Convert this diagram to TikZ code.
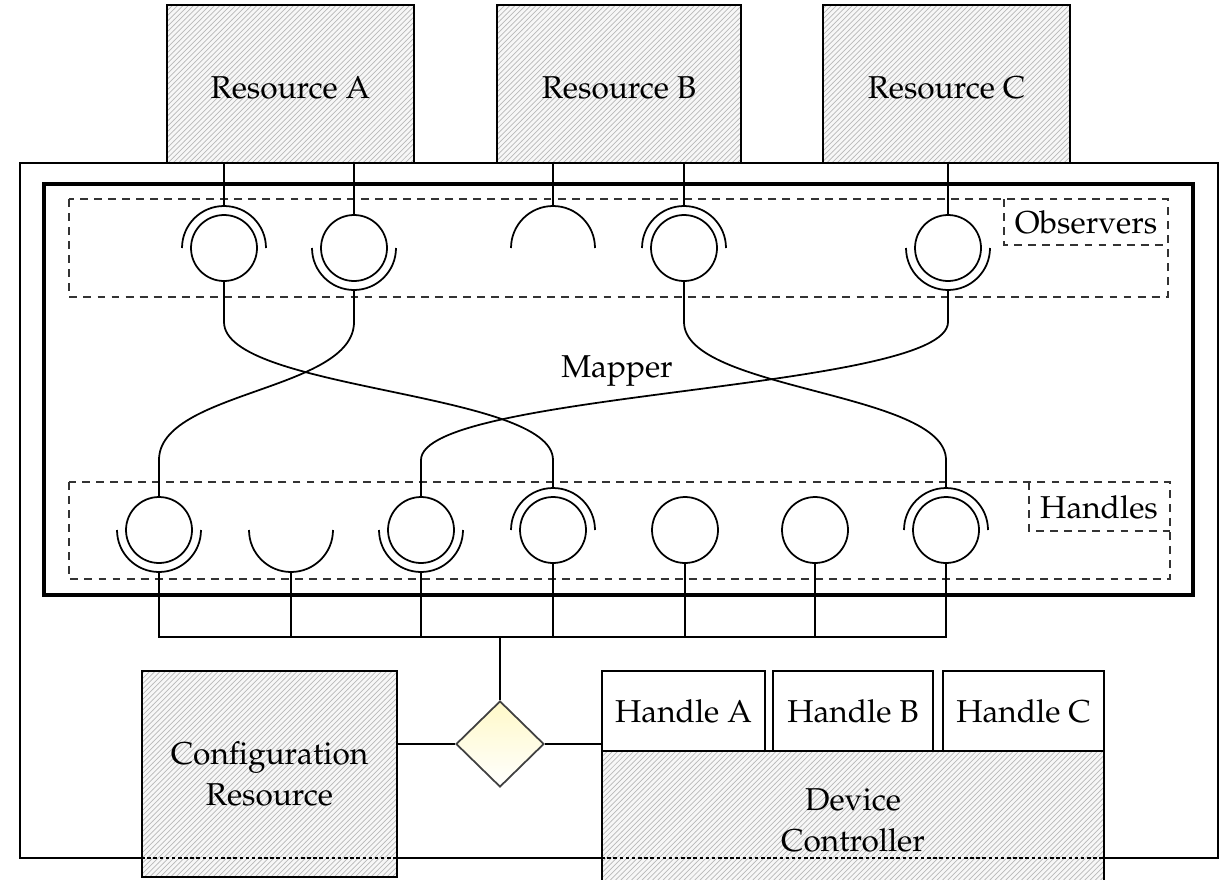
\documentclass[tikz,border=0pt]{standalone}
\usepackage[T1]{fontenc}
\usepackage{mathpazo}
\usetikzlibrary{patterns,shapes.geometric,calc}
\definecolor{dialight}{RGB}{255,249,200}
\tikzset{
 lbl/.style={font=\fontsize{18}{23}\selectfont, inner sep=0pt},
 hatchbox/.style={draw, line width=1pt, preaction={fill=gray!6}, pattern=north east lines, pattern color=gray!55, lbl, align=center},
 resbox/.style={hatchbox, minimum height=3.16cm, text height=17pt, text depth=0pt},
 plainbox/.style={draw, line width=1pt, fill=white, lbl},
 port/.style={circle, draw, line width=1pt, minimum size=1.32cm, inner sep=0pt},
 wire/.style={line width=1pt},
 grp/.style={line width=1.2pt, draw=black!80, dash pattern=on 4.5pt off 3.5pt},
 overdash/.style={line width=0.7pt, dash pattern=on 2pt off 1.5pt},
}
\newcommand\arcup[1]{\draw[wire] ([xshift=0.84cm]#1.center) arc[start angle=0,end angle=180,radius=0.84cm];}
\newcommand\arcdown[1]{\draw[wire] ([xshift=0.84cm]#1.center) arc[start angle=0,end angle=-180,radius=0.84cm];}
\begin{document}
\begin{tikzpicture}[x=0.02cm,y=-0.02cm]
\useasboundingbox (0,0) rectangle (1222,879);
% outer container
\draw[line width=1pt] (20,163) rectangle (1218,858);
% resources
\node[resbox, minimum width=4.94cm] (ra) at (290.5,84) {Resource A};
\node[resbox, minimum width=4.88cm] (rb) at (619,84) {Resource B};
\node[resbox, minimum width=4.94cm] (rc) at (946.5,84) {Resource C};
% mapper
\draw[line width=1.8pt] (44,184) rectangle (1193,595);
\node[lbl] (mapper) at (617,371) {Mapper};
% groups
\draw[grp] (69,199) rectangle (1168,297);
\draw[grp] (1004,199) -- (1004,245) -- (1168,245);
\node[lbl] (obs) at (1086,222) {Observers};
\draw[grp] (69,482) rectangle (1170,579);
\draw[grp] (1029,482) -- (1029,531) -- (1170,531);
\node[lbl] (hdl) at (1099,507) {Handles};
% ports
\node[port] (o1) at (224,248) {};
\node[port] (o2) at (354,248) {};
\coordinate (o3) at (553,248);
\node[port] (o4) at (684,248) {};
\node[port] (o5) at (948,248) {};
\node[port] (h1) at (159,530) {};
\coordinate (h2) at (291,530);
\node[port] (h3) at (421,530) {};
\node[port] (h4) at (553,530) {};
\node[port] (h5) at (685,530) {};
\node[port] (h6) at (815,530) {};
\node[port] (h7) at (946,530) {};
\arcup{o1} \arcdown{o2} \arcup{o3} \arcup{o4} \arcdown{o5}
\arcdown{h1} \arcdown{h2} \arcdown{h3} \arcup{h4} \arcup{h7}
\coordinate (o1t) at ([yshift=0.84cm]o1.center);
\coordinate (o3t) at ([yshift=0.84cm]o3.center);
\coordinate (o4t) at ([yshift=0.84cm]o4.center);
\coordinate (o2b) at ([yshift=-0.84cm]o2.center);
\coordinate (o5b) at ([yshift=-0.84cm]o5.center);
\coordinate (h4t) at ([yshift=0.84cm]h4.center);
\coordinate (h7t) at ([yshift=0.84cm]h7.center);
\coordinate (h1b) at ([yshift=-0.84cm]h1.center);
\coordinate (h2b) at ([yshift=-0.84cm]h2.center);
\coordinate (h3b) at ([yshift=-0.84cm]h3.center);
% resource to observers
\draw[wire] (ra.south -| o1t) -- (o1t);
\draw[wire] (ra.south -| o2.north) -- (o2.north);
\draw[wire] (rb.south -| o3t) -- (o3t);
\draw[wire] (rb.south -| o4t) -- (o4t);
\draw[wire] (rc.south -| o5.north) -- (o5.north);
% mapping curves
\coordinate (up) at (0,322);
\coordinate (mid) at (0,391);
\coordinate (lo) at (0,460);
\draw[wire] (o1.south) -- (o1.south |- up) .. controls (o1.south |- mid) and (h4t |- mid) .. (h4t |- lo) -- (h4t);
\draw[wire] (o2b) -- (o2b |- up) .. controls (o2b |- mid) and (h1.north |- mid) .. (h1.north |- lo) -- (h1.north);
\draw[wire] (o4.south) -- (o4.south |- up) .. controls (o4.south |- mid) and (h7t |- mid) .. (h7t |- lo) -- (h7t);
\draw[wire] (o5b) -- (o5b |- up) .. controls (o5b |- mid) and (h3.north |- mid) .. (h3.north |- lo) -- (h3.north);
% bus
\coordinate (bus) at (0,637);
\draw[wire] (h1b) -- (h1b |- bus) -- (h7.south |- bus) -- (h7.south);
\draw[wire] (h2b) -- (h2b |- bus);
\draw[wire] (h3b) -- (h3b |- bus);
\draw[wire] (h4.south) -- (h4.south |- bus);
\draw[wire] (h5.south) -- (h5.south |- bus);
\draw[wire] (h6.south) -- (h6.south |- bus);
% bottom blocks
\node[diamond, draw=black!75, line width=1pt, top color=dialight, bottom color=white, minimum width=1.76cm, minimum height=1.72cm, inner sep=0pt] (dia) at (500,744) {};
\draw[wire] (dia.north) -- (dia.north |- bus);
\node[hatchbox, minimum width=5.1cm, minimum height=4.12cm] (cfg) at (269.5,774) {Configuration\\Resource};
\node[hatchbox, minimum width=10.04cm, minimum height=2.78cm] (dev) at (853,820.5) {Device\\Controller};
\node[plainbox, minimum width=3.26cm, minimum height=1.6cm] (ha) at (683.5,711) {Handle A};
\node[plainbox, minimum width=3.2cm, minimum height=1.6cm] (hb) at (853,711) {Handle B};
\node[plainbox, minimum width=3.22cm, minimum height=1.6cm] (hc) at (1023.5,711) {Handle C};
\draw[wire] (cfg.east |- dia) -- (dia.west);
\draw[wire] (dia.east) -- (ha.west |- dia);
% container edge seen through the blocks
\coordinate (ob) at (0,858);
\draw[overdash] (cfg.west |- ob) -- (cfg.east |- ob);
\draw[overdash] (dev.west |- ob) -- (dev.east |- ob);
\end{tikzpicture}
\end{document}
